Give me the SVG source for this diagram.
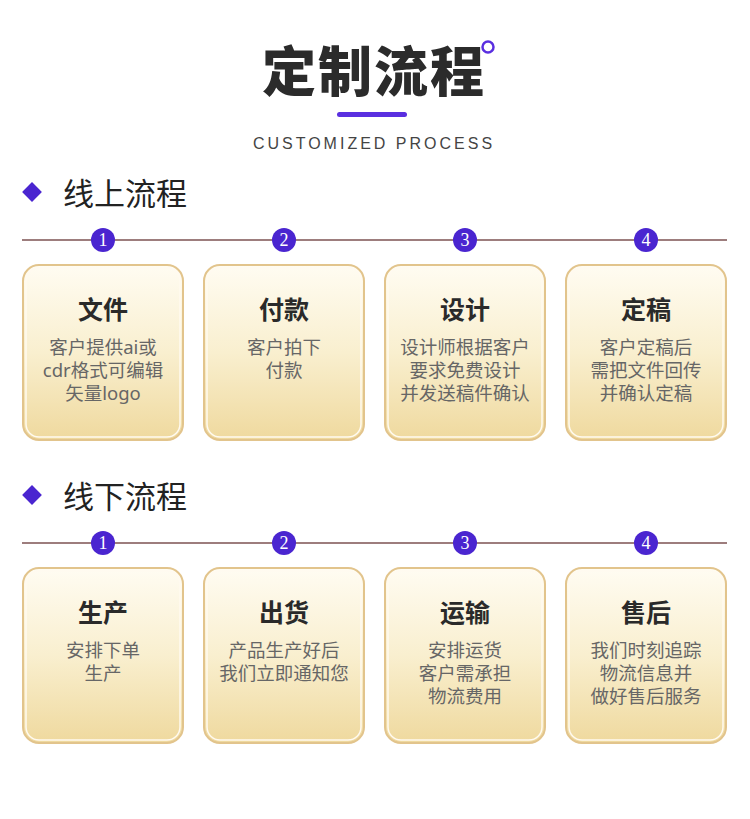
<svg xmlns="http://www.w3.org/2000/svg" width="750" height="819" viewBox="0 0 750 819">
<defs>
<linearGradient id="cardg" x1="0" y1="0" x2="0" y2="1">
<stop offset="0" stop-color="#fffcf2"/>
<stop offset="0.5" stop-color="#f9efcf"/>
<stop offset="1" stop-color="#efd99e"/>
</linearGradient>
<style>
.title{font-family:"Noto Sans CJK SC","Noto Sans",sans-serif;font-weight:900;font-size:54px;fill:#2b2b2b;letter-spacing:2px}
.sub{font-family:"Liberation Sans","Noto Sans",sans-serif;font-size:16px;fill:#444;letter-spacing:3px}
.sec{font-family:"Noto Sans CJK SC",serif;font-size:31px;fill:#222}
.ct{font-family:"Noto Sans CJK SC",serif;font-size:25px;font-weight:bold;fill:#2a2a2a;text-anchor:middle}
.cb{font-family:"Noto Sans","Noto Sans CJK SC",sans-serif;font-size:18.5px;fill:#666;text-anchor:middle}
.card{fill:url(#cardg);stroke:#e2c48c;stroke-width:2}
.inner{fill:none;stroke:#fffaf0;stroke-width:1.5}
.num{fill:#4a25d0}
.nt{font-family:"Liberation Serif",serif;font-size:18px;fill:#fff;text-anchor:middle}
.ln{stroke:#7d5252;stroke-width:1.5}
.dia{fill:#4a25d0}
</style>
</defs>
<rect width="750" height="819" fill="#fff"/>
<g id="header">
<text class="title" x="374" y="92" text-anchor="middle">定制流程</text>
<circle cx="488" cy="47" r="5.5" fill="#fff" stroke="#5a2fe0" stroke-width="2.5"/>
<rect x="337" y="112" width="70" height="5" rx="2.5" fill="#5a2fe0"/>
<text class="sub" x="374" y="149" text-anchor="middle">CUSTOMIZED PROCESS</text>
</g>
<g id="section1">
<rect class="dia" x="25" y="185" width="14" height="14" transform="rotate(45 32 192)"/>
<text class="sec" x="63" y="205">线上流程</text>
</g>
<g id="section2">
<rect class="dia" x="25" y="488" width="14" height="14" transform="rotate(45 32 495)"/>
<text class="sec" x="63" y="508">线下流程</text>
</g>
<g id="connectors">
<line class="ln" x1="22" y1="240" x2="727" y2="240"/>
<line class="ln" x1="22" y1="543" x2="727" y2="543"/>
</g>
<g id="steps1">
<circle class="num" cx="103" cy="240" r="12"/><text class="nt" x="103" y="246">1</text>
<circle class="num" cx="284" cy="240" r="12"/><text class="nt" x="284" y="246">2</text>
<circle class="num" cx="465" cy="240" r="12"/><text class="nt" x="465" y="246">3</text>
<circle class="num" cx="646" cy="240" r="12"/><text class="nt" x="646" y="246">4</text>
</g>
<g id="steps2">
<circle class="num" cx="103" cy="543" r="12"/><text class="nt" x="103" y="549">1</text>
<circle class="num" cx="284" cy="543" r="12"/><text class="nt" x="284" y="549">2</text>
<circle class="num" cx="465" cy="543" r="12"/><text class="nt" x="465" y="549">3</text>
<circle class="num" cx="646" cy="543" r="12"/><text class="nt" x="646" y="549">4</text>
</g>
<g id="card-file">
<rect class="card" x="23" y="265" width="160" height="175" rx="16"/>
<rect class="inner" x="26" y="268" width="154" height="169" rx="13"/>
<text class="ct" x="103" y="319">文件</text>
<text class="cb" x="103" y="354">客户提供ai或</text>
<text class="cb" x="103" y="377">cdr格式可编辑</text>
<text class="cb" x="103" y="400">矢量logo</text>
</g>
<g id="card-pay">
<rect class="card" x="204" y="265" width="160" height="175" rx="16"/>
<rect class="inner" x="207" y="268" width="154" height="169" rx="13"/>
<text class="ct" x="284" y="319">付款</text>
<text class="cb" x="284" y="354">客户拍下</text>
<text class="cb" x="284" y="377">付款</text>
</g>
<g id="card-design">
<rect class="card" x="385" y="265" width="160" height="175" rx="16"/>
<rect class="inner" x="388" y="268" width="154" height="169" rx="13"/>
<text class="ct" x="465" y="319">设计</text>
<text class="cb" x="465" y="354">设计师根据客户</text>
<text class="cb" x="465" y="377">要求免费设计</text>
<text class="cb" x="465" y="400">并发送稿件确认</text>
</g>
<g id="card-final">
<rect class="card" x="566" y="265" width="160" height="175" rx="16"/>
<rect class="inner" x="569" y="268" width="154" height="169" rx="13"/>
<text class="ct" x="646" y="319">定稿</text>
<text class="cb" x="646" y="354">客户定稿后</text>
<text class="cb" x="646" y="377">需把文件回传</text>
<text class="cb" x="646" y="400">并确认定稿</text>
</g>
<g id="card-produce">
<rect class="card" x="23" y="568" width="160" height="175" rx="16"/>
<rect class="inner" x="26" y="571" width="154" height="169" rx="13"/>
<text class="ct" x="103" y="622">生产</text>
<text class="cb" x="103" y="657">安排下单</text>
<text class="cb" x="103" y="680">生产</text>
</g>
<g id="card-ship">
<rect class="card" x="204" y="568" width="160" height="175" rx="16"/>
<rect class="inner" x="207" y="571" width="154" height="169" rx="13"/>
<text class="ct" x="284" y="622">出货</text>
<text class="cb" x="284" y="657">产品生产好后</text>
<text class="cb" x="284" y="680">我们立即通知您</text>
</g>
<g id="card-transport">
<rect class="card" x="385" y="568" width="160" height="175" rx="16"/>
<rect class="inner" x="388" y="571" width="154" height="169" rx="13"/>
<text class="ct" x="465" y="622">运输</text>
<text class="cb" x="465" y="657">安排运货</text>
<text class="cb" x="465" y="680">客户需承担</text>
<text class="cb" x="465" y="703">物流费用</text>
</g>
<g id="card-after">
<rect class="card" x="566" y="568" width="160" height="175" rx="16"/>
<rect class="inner" x="569" y="571" width="154" height="169" rx="13"/>
<text class="ct" x="646" y="622">售后</text>
<text class="cb" x="646" y="657">我们时刻追踪</text>
<text class="cb" x="646" y="680">物流信息并</text>
<text class="cb" x="646" y="703">做好售后服务</text>
</g>
</svg>
